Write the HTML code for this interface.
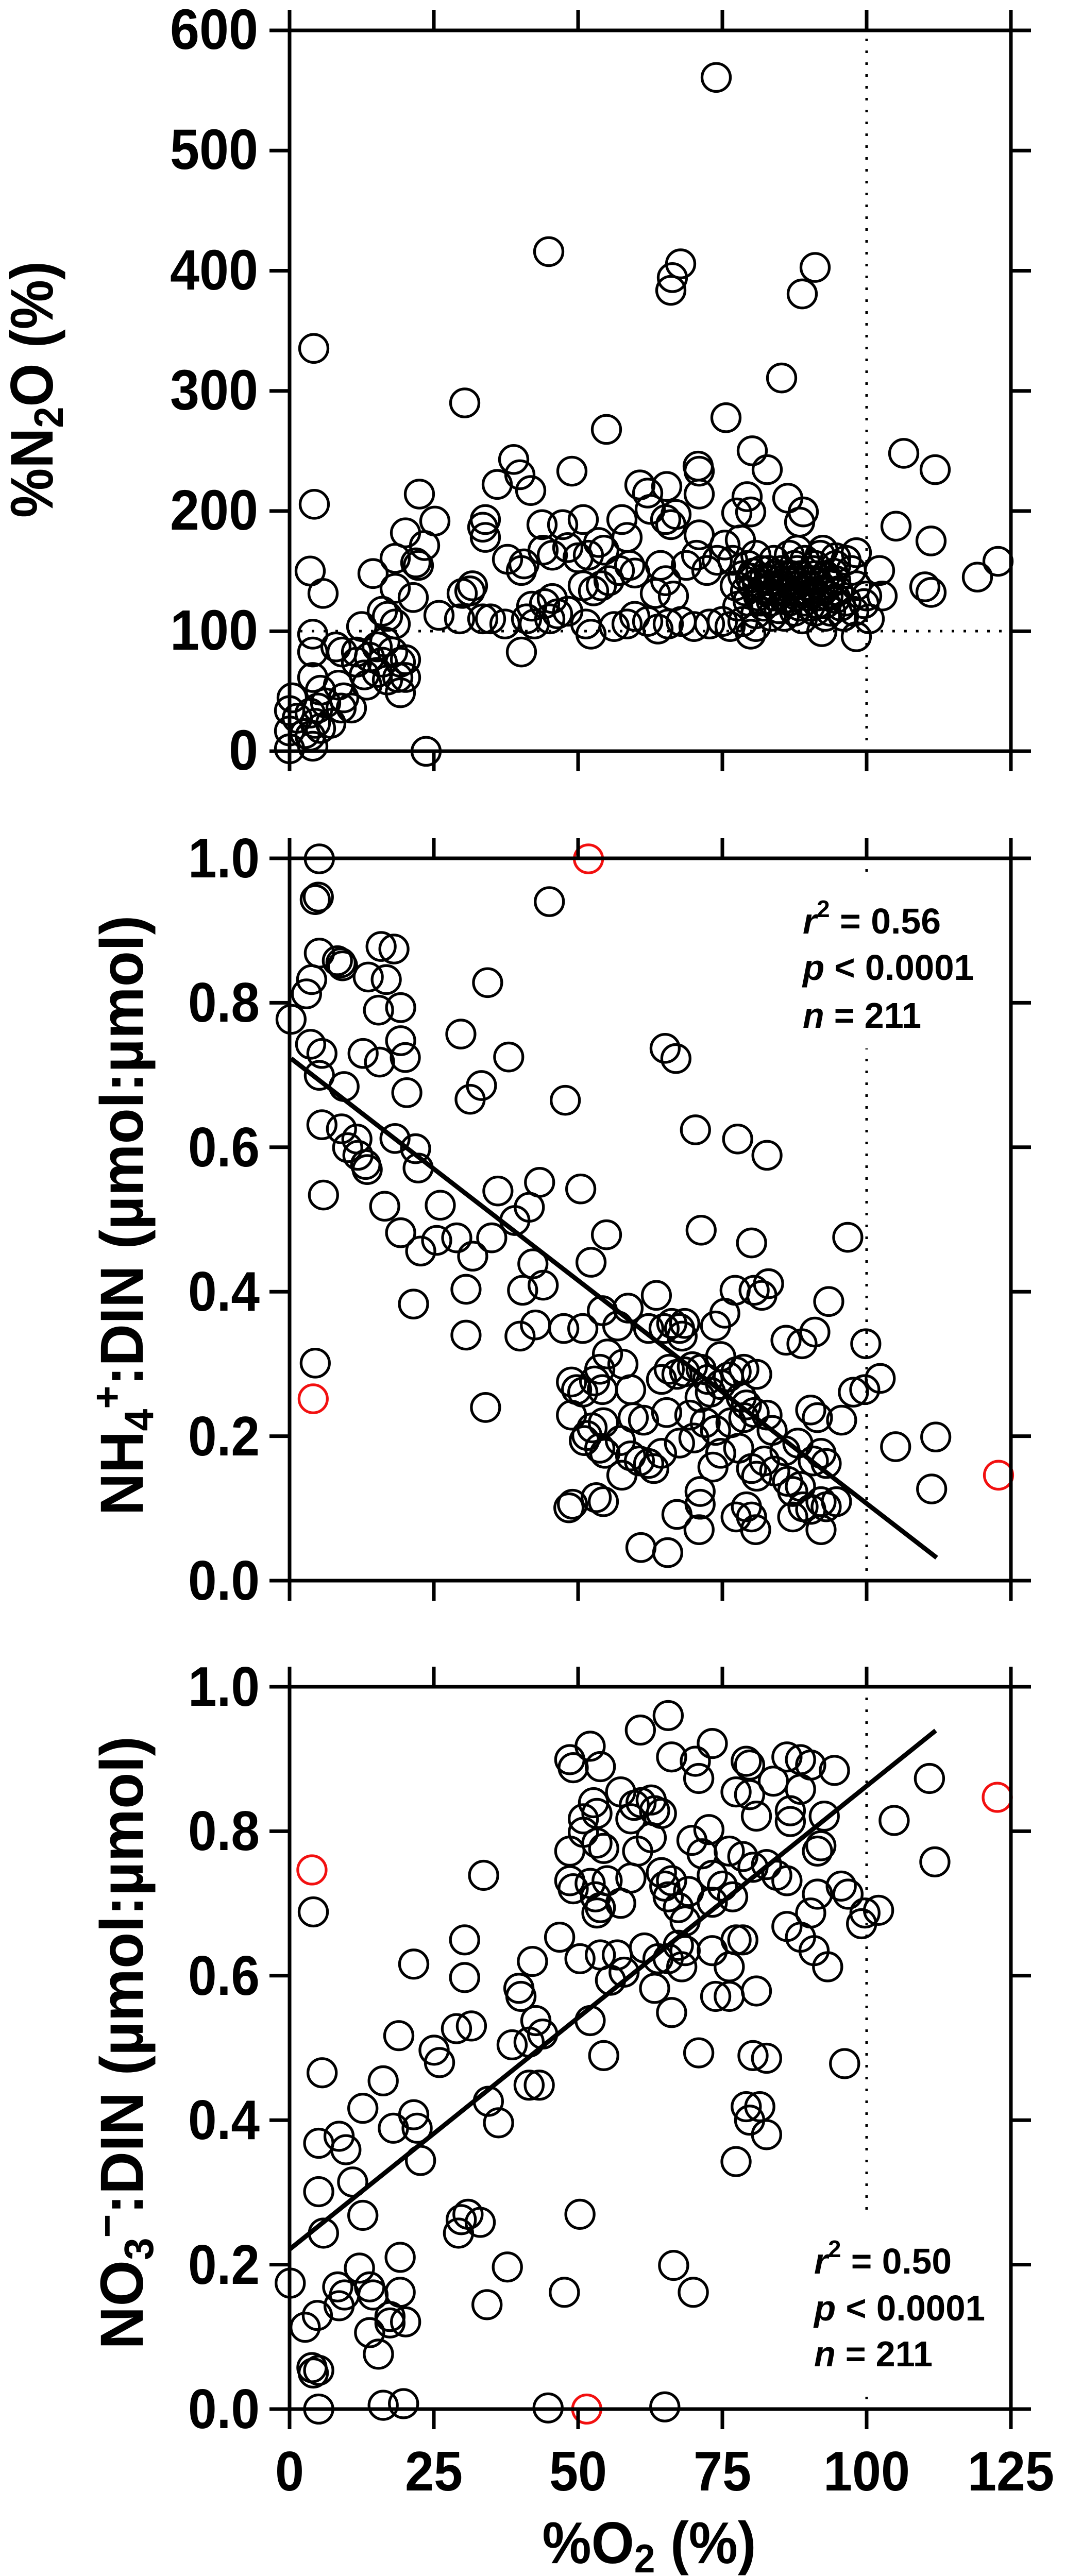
<!DOCTYPE html>
<html><head><meta charset="utf-8"><style>
html,body{margin:0;padding:0;background:#fff;width:2067px;height:5036px;overflow:hidden;position:relative;}
svg{display:block;position:absolute;left:0;top:0;overflow:hidden;}
.ax{stroke:#000;stroke-width:7;fill:none;stroke-linecap:butt;}
.dot{stroke:#000;stroke-width:5;stroke-dasharray:5 18;fill:none;}
.pt circle,.pt ellipse{fill:none;stroke:#000;stroke-width:5.3;vector-effect:non-scaling-stroke;}
.pt .r{stroke:#f21010;}
text{font-family:"Liberation Sans",Arial,sans-serif;font-weight:bold;fill:#000;}
</style></head><body>
<svg width="2067" height="5036" viewBox="0 0 2067 5036" xmlns="http://www.w3.org/2000/svg">

<!-- ============ PANEL 1 ============ -->
<line class="dot" x1="1682" y1="75" x2="1682" y2="1455"/>
<line class="dot" x1="582" y1="1225" x2="1960" y2="1225"/>
<g class="pt" transform="matrix(1 0 0 0.9887 502 0)">
<circle cx="888" cy="152" r="27.5"/><circle cx="563" cy="494" r="27.5"/><circle cx="819" cy="518" r="27.5"/><circle cx="803" cy="545" r="27.5"/><circle cx="800" cy="570" r="27.5"/><circle cx="1080" cy="525" r="27.5"/><circle cx="1055" cy="577" r="27.5"/><circle cx="107" cy="684" r="27.5"/><circle cx="400" cy="791" r="27.5"/><circle cx="1015" cy="742" r="27.5"/><circle cx="907" cy="820" r="27.5"/><circle cx="675" cy="843" r="27.5"/><circle cx="958" cy="885" r="27.5"/><circle cx="987" cy="922" r="27.5"/><circle cx="1252" cy="890" r="27.5"/><circle cx="1313" cy="922" r="27.5"/><circle cx="495" cy="902" r="27.5"/><circle cx="507" cy="932" r="27.5"/><circle cx="528" cy="963" r="27.5"/><circle cx="463" cy="951" r="27.5"/><circle cx="608" cy="925" r="27.5"/><circle cx="853" cy="915" r="27.5"/><circle cx="855" cy="925" r="27.5"/><circle cx="855" cy="970" r="27.5"/><circle cx="740" cy="952" r="27.5"/><circle cx="755" cy="968" r="27.5"/><circle cx="792" cy="955" r="27.5"/><circle cx="760" cy="1000" r="27.5"/><circle cx="312" cy="970" r="27.5"/><circle cx="108" cy="990" r="27.5"/><circle cx="342" cy="1023" r="27.5"/><circle cx="928" cy="1007" r="27.5"/><circle cx="948" cy="975" r="27.5"/><circle cx="955" cy="1005" r="27.5"/><circle cx="1027" cy="978" r="27.5"/><circle cx="1057" cy="1005" r="27.5"/><circle cx="1050" cy="1025" r="27.5"/><circle cx="1237" cy="1033" r="27.5"/><circle cx="1305" cy="1062" r="27.5"/><circle cx="1435" cy="1102" r="27.5"/><circle cx="1395" cy="1133" r="27.5"/><circle cx="1293" cy="1152" r="27.5"/><circle cx="1305" cy="1163" r="27.5"/><circle cx="285" cy="1046" r="27.5"/><circle cx="322" cy="1071" r="27.5"/><circle cx="265" cy="1096" r="27.5"/><circle cx="305" cy="1105" r="27.5"/><circle cx="310" cy="1110" r="27.5"/><circle cx="222" cy="1126" r="27.5"/><circle cx="100" cy="1121" r="27.5"/><circle cx="125" cy="1165" r="27.5"/><circle cx="265" cy="1155" r="27.5"/><circle cx="300" cy="1173" r="27.5"/><circle cx="440" cy="1020" r="27.5"/><circle cx="435" cy="1035" r="27.5"/><circle cx="440" cy="1055" r="27.5"/><circle cx="483" cy="1098" r="27.5"/><circle cx="515" cy="1107" r="27.5"/><circle cx="510" cy="1120" r="27.5"/><circle cx="550" cy="1030" r="27.5"/><circle cx="590" cy="1030" r="27.5"/><circle cx="630" cy="1020" r="27.5"/><circle cx="552" cy="1080" r="27.5"/><circle cx="570" cy="1090" r="27.5"/><circle cx="600" cy="1075" r="27.5"/><circle cx="620" cy="1095" r="27.5"/><circle cx="640" cy="1090" r="27.5"/><circle cx="660" cy="1065" r="27.5"/><circle cx="670" cy="1080" r="27.5"/><circle cx="705" cy="1020" r="27.5"/><circle cx="715" cy="1055" r="27.5"/><circle cx="730" cy="1125" r="27.5"/><circle cx="630" cy="1150" r="27.5"/><circle cx="650" cy="1160" r="27.5"/><circle cx="665" cy="1150" r="27.5"/><circle cx="680" cy="1140" r="27.5"/><circle cx="700" cy="1120" r="27.5"/><circle cx="720" cy="1110" r="27.5"/><circle cx="790" cy="1020" r="27.5"/><circle cx="800" cy="1030" r="27.5"/><circle cx="810" cy="1010" r="27.5"/><circle cx="780" cy="1110" r="27.5"/><circle cx="790" cy="1140" r="27.5"/><circle cx="770" cy="1165" r="27.5"/><circle cx="805" cy="1170" r="27.5"/><circle cx="830" cy="1110" r="27.5"/><circle cx="850" cy="1090" r="27.5"/><circle cx="855" cy="1050" r="27.5"/><circle cx="870" cy="1120" r="27.5"/><circle cx="890" cy="1100" r="27.5"/><circle cx="905" cy="1070" r="27.5"/><circle cx="920" cy="1100" r="27.5"/><circle cx="935" cy="1060" r="27.5"/><circle cx="950" cy="1110" r="27.5"/>
<circle cx="940" cy="1130" r="27.5"/><circle cx="960" cy="1150" r="27.5"/><circle cx="975" cy="1120" r="27.5"/><circle cx="990" cy="1140" r="27.5"/><circle cx="1005" cy="1160" r="27.5"/><circle cx="1020" cy="1130" r="27.5"/><circle cx="1040" cy="1150" r="27.5"/><circle cx="1060" cy="1140" r="27.5"/><circle cx="1075" cy="1120" r="27.5"/><circle cx="1090" cy="1150" r="27.5"/><circle cx="1105" cy="1170" r="27.5"/><circle cx="1120" cy="1140" r="27.5"/><circle cx="1000" cy="1100" r="27.5"/><circle cx="1030" cy="1090" r="27.5"/><circle cx="1060" cy="1100" r="27.5"/><circle cx="1090" cy="1090" r="27.5"/><circle cx="1120" cy="1110" r="27.5"/><circle cx="950" cy="1180" r="27.5"/><circle cx="980" cy="1190" r="27.5"/><circle cx="1010" cy="1195" r="27.5"/><circle cx="1050" cy="1190" r="27.5"/><circle cx="1080" cy="1200" r="27.5"/><circle cx="1110" cy="1200" r="27.5"/><circle cx="1140" cy="1180" r="27.5"/><circle cx="1160" cy="1150" r="27.5"/><circle cx="1160" cy="1085" r="27.5"/><circle cx="1150" cy="1120" r="27.5"/><circle cx="1180" cy="1170" r="27.5"/><circle cx="1205" cy="1120" r="27.5"/><circle cx="1210" cy="1170" r="27.5"/><circle cx="1160" cy="1250" r="27.5"/><circle cx="1185" cy="1215" r="27.5"/><circle cx="1093" cy="1240" r="27.5"/><circle cx="955" cy="1245" r="27.5"/><circle cx="1055" cy="1215" r="27.5"/><circle cx="1020" cy="1210" r="27.5"/><circle cx="995" cy="1210" r="27.5"/><circle cx="1000" cy="1170" r="27.5"/><circle cx="1030" cy="1180" r="27.5"/><circle cx="1065" cy="1170" r="27.5"/><circle cx="965" cy="1090" r="27.5"/><circle cx="1045" cy="1080" r="27.5"/><circle cx="1095" cy="1080" r="27.5"/><circle cx="1120" cy="1095" r="27.5"/><circle cx="1140" cy="1100" r="27.5"/><circle cx="945" cy="1160" r="27.5"/><circle cx="970" cy="1170" r="27.5"/><circle cx="985" cy="1160" r="27.5"/><circle cx="1015" cy="1150" r="27.5"/><circle cx="1035" cy="1130" r="27.5"/><circle cx="1050" cy="1160" r="27.5"/><circle cx="1070" cy="1150" r="27.5"/><circle cx="1085" cy="1170" r="27.5"/><circle cx="1100" cy="1130" r="27.5"/><circle cx="1125" cy="1160" r="27.5"/><circle cx="1130" cy="1190" r="27.5"/><circle cx="925" cy="1150" r="27.5"/><circle cx="930" cy="1190" r="27.5"/><circle cx="965" cy="1205" r="27.5"/><circle cx="1040" cy="1200" r="27.5"/><circle cx="1070" cy="1190" r="27.5"/><circle cx="1100" cy="1210" r="27.5"/><circle cx="1135" cy="1210" r="27.5"/><circle cx="1155" cy="1200" r="27.5"/><circle cx="1175" cy="1185" r="27.5"/><circle cx="1015" cy="1120" r="27.5"/><circle cx="990" cy="1120" r="27.5"/><circle cx="1045" cy="1120" r="27.5"/><circle cx="1075" cy="1140" r="27.5"/>
<circle cx="955" cy="1135" r="27.5"/><circle cx="968" cy="1145" r="27.5"/><circle cx="982" cy="1135" r="27.5"/><circle cx="997" cy="1150" r="27.5"/><circle cx="1010" cy="1140" r="27.5"/><circle cx="1025" cy="1160" r="27.5"/><circle cx="1038" cy="1140" r="27.5"/><circle cx="1052" cy="1130" r="27.5"/><circle cx="1066" cy="1160" r="27.5"/><circle cx="1080" cy="1130" r="27.5"/><circle cx="1095" cy="1160" r="27.5"/><circle cx="1108" cy="1145" r="27.5"/><circle cx="960" cy="1125" r="27.5"/><circle cx="1000" cy="1130" r="27.5"/><circle cx="1040" cy="1110" r="27.5"/><circle cx="1080" cy="1110" r="27.5"/><circle cx="1115" cy="1125" r="27.5"/><circle cx="975" cy="1180" r="27.5"/><circle cx="1020" cy="1175" r="27.5"/><circle cx="1060" cy="1180" r="27.5"/><circle cx="1100" cy="1185" r="27.5"/><circle cx="1120" cy="1175" r="27.5"/><circle cx="995" cy="1180" r="27.5"/><circle cx="1045" cy="1170" r="27.5"/><circle cx="1085" cy="1185" r="27.5"/>
<circle cx="350" cy="1208" r="27.5"/><circle cx="390" cy="1215" r="27.5"/><circle cx="410" cy="1160" r="27.5"/><circle cx="415" cy="1150" r="27.5"/><circle cx="395" cy="1165" r="27.5"/><circle cx="435" cy="1215" r="27.5"/><circle cx="450" cy="1215" r="27.5"/><circle cx="478" cy="1225" r="27.5"/><circle cx="510" cy="1280" r="27.5"/><circle cx="520" cy="1215" r="27.5"/><circle cx="535" cy="1225" r="27.5"/><circle cx="565" cy="1215" r="27.5"/><circle cx="580" cy="1205" r="27.5"/><circle cx="600" cy="1200" r="27.5"/><circle cx="635" cy="1225" r="27.5"/><circle cx="645" cy="1245" r="27.5"/><circle cx="690" cy="1230" r="27.5"/><circle cx="715" cy="1225" r="27.5"/><circle cx="730" cy="1210" r="27.5"/><circle cx="755" cy="1220" r="27.5"/><circle cx="775" cy="1235" r="27.5"/><circle cx="795" cy="1225" r="27.5"/><circle cx="820" cy="1220" r="27.5"/><circle cx="845" cy="1230" r="27.5"/><circle cx="875" cy="1225" r="27.5"/><circle cx="900" cy="1220" r="27.5"/><circle cx="915" cy="1230" r="27.5"/><circle cx="940" cy="1220" r="27.5"/><circle cx="965" cy="1230" r="27.5"/><circle cx="530" cy="1190" r="27.5"/><circle cx="555" cy="1185" r="27.5"/><circle cx="570" cy="1175" r="27.5"/>
<circle cx="60" cy="1470" r="27.5"/><circle cx="60" cy="1435" r="27.5"/><circle cx="65" cy="1370" r="27.5"/><circle cx="60" cy="1395" r="27.5"/><circle cx="75" cy="1410" r="27.5"/><circle cx="90" cy="1440" r="27.5"/><circle cx="100" cy="1445" r="27.5"/><circle cx="105" cy="1465" r="27.5"/><circle cx="110" cy="1420" r="27.5"/><circle cx="120" cy="1430" r="27.5"/><circle cx="100" cy="1400" r="27.5"/><circle cx="115" cy="1390" r="27.5"/><circle cx="105" cy="1330" r="27.5"/><circle cx="120" cy="1355" r="27.5"/><circle cx="130" cy="1380" r="27.5"/><circle cx="140" cy="1420" r="27.5"/><circle cx="160" cy="1390" r="27.5"/><circle cx="180" cy="1390" r="27.5"/><circle cx="165" cy="1370" r="27.5"/><circle cx="155" cy="1345" r="27.5"/><circle cx="105" cy="1280" r="27.5"/><circle cx="105" cy="1245" r="27.5"/><circle cx="150" cy="1270" r="27.5"/><circle cx="162" cy="1280" r="27.5"/><circle cx="200" cy="1230" r="27.5"/><circle cx="190" cy="1300" r="27.5"/><circle cx="205" cy="1325" r="27.5"/><circle cx="210" cy="1345" r="27.5"/><circle cx="230" cy="1320" r="27.5"/><circle cx="240" cy="1300" r="27.5"/><circle cx="230" cy="1270" r="27.5"/><circle cx="245" cy="1260" r="27.5"/><circle cx="260" cy="1280" r="27.5"/><circle cx="275" cy="1300" r="27.5"/><circle cx="285" cy="1295" r="27.5"/><circle cx="270" cy="1330" r="27.5"/><circle cx="275" cy="1360" r="27.5"/><circle cx="285" cy="1330" r="27.5"/><circle cx="250" cy="1335" r="27.5"/><circle cx="240" cy="1200" r="27.5"/><circle cx="250" cy="1210" r="27.5"/><circle cx="265" cy="1225" r="27.5"/><circle cx="325" cy="1475" r="27.5"/><circle cx="190" cy="1280" r="27.5"/><circle cx="215" cy="1290" r="27.5"/>
</g>
<path class="ax" d="M562 19V1497M1962 19V1497M523 59H2001M523 1458H2001
M523 292.2H562M523 525.5H562M523 758.7H562M523 991.9H562M523 1225.2H562
M1962 292.2H2001M1962 525.5H2001M1962 758.7H2001M1962 991.9H2001M1962 1225.2H2001
M842 19V59M1122 19V59M1402 19V59M1682 19V59
M842 1458V1497M1122 1458V1497M1402 1458V1497M1682 1458V1497"/>
<g font-size="110" text-anchor="end">
<text x="501" y="95" textLength="171" lengthAdjust="spacingAndGlyphs">600</text>
<text x="501" y="328" textLength="171" lengthAdjust="spacingAndGlyphs">500</text>
<text x="501" y="562" textLength="171" lengthAdjust="spacingAndGlyphs">400</text>
<text x="501" y="795" textLength="171" lengthAdjust="spacingAndGlyphs">300</text>
<text x="501" y="1028" textLength="171" lengthAdjust="spacingAndGlyphs">200</text>
<text x="501" y="1261" textLength="171" lengthAdjust="spacingAndGlyphs">100</text>
<text x="501" y="1494" textLength="57" lengthAdjust="spacingAndGlyphs">0</text>
</g>
<text transform="translate(102,756) rotate(-90)" font-size="117" text-anchor="middle" textLength="498" lengthAdjust="spacingAndGlyphs">%N<tspan font-size="80" dy="20">2</tspan><tspan dy="-20">O (%)</tspan></text>

<!-- ============ PANEL 2 ============ -->
<line class="dot" x1="1682" y1="1687" x2="1682" y2="3062"/>
<rect x="1545" y="1700" width="365" height="335" fill="#fff"/>
<g class="pt" transform="matrix(0.9986 0 0 0.9887 500 1599.8)">
<circle cx="120" cy="68" r="27.5"/><circle cx="112" cy="148" r="27.5"/><circle cx="118" cy="143" r="27.5"/><circle cx="567" cy="152" r="27.5"/><circle cx="120" cy="253" r="27.5"/><circle cx="155" cy="268" r="27.5"/><circle cx="162" cy="272" r="27.5"/><circle cx="165" cy="278" r="27.5"/><circle cx="240" cy="240" r="27.5"/><circle cx="265" cy="245" r="27.5"/><circle cx="105" cy="305" r="27.5"/><circle cx="95" cy="333" r="27.5"/><circle cx="65" cy="383" r="27.5"/><circle cx="215" cy="300" r="27.5"/><circle cx="250" cy="305" r="27.5"/><circle cx="235" cy="365" r="27.5"/><circle cx="278" cy="360" r="27.5"/><circle cx="447" cy="311" r="27.5"/><circle cx="395" cy="412" r="27.5"/><circle cx="103" cy="432" r="27.5"/><circle cx="125" cy="450" r="27.5"/><circle cx="120" cy="493" r="27.5"/><circle cx="168" cy="515" r="27.5"/><circle cx="205" cy="450" r="27.5"/><circle cx="237" cy="467" r="27.5"/><circle cx="278" cy="425" r="27.5"/><circle cx="287" cy="458" r="27.5"/><circle cx="290" cy="527" r="27.5"/><circle cx="488" cy="457" r="27.5"/><circle cx="435" cy="513" r="27.5"/><circle cx="413" cy="540" r="27.5"/><circle cx="598" cy="542" r="27.5"/><circle cx="792" cy="440" r="27.5"/><circle cx="813" cy="460" r="27.5"/><circle cx="125" cy="590" r="27.5"/><circle cx="163" cy="598" r="27.5"/><circle cx="193" cy="618" r="27.5"/><circle cx="175" cy="635" r="27.5"/><circle cx="195" cy="650" r="27.5"/><circle cx="210" cy="668" r="27.5"/><circle cx="213" cy="678" r="27.5"/><circle cx="267" cy="617" r="27.5"/><circle cx="307" cy="637" r="27.5"/><circle cx="312" cy="675" r="27.5"/><circle cx="851" cy="600" r="27.5"/><circle cx="933" cy="618" r="27.5"/><circle cx="990" cy="650" r="27.5"/><circle cx="128" cy="728" r="27.5"/><circle cx="247" cy="750" r="27.5"/><circle cx="355" cy="748" r="27.5"/><circle cx="467" cy="720" r="27.5"/><circle cx="548" cy="703" r="27.5"/><circle cx="628" cy="716" r="27.5"/><circle cx="528" cy="752" r="27.5"/><circle cx="500" cy="778" r="27.5"/><circle cx="278" cy="802" r="27.5"/><circle cx="317" cy="838" r="27.5"/><circle cx="348" cy="817" r="27.5"/><circle cx="387" cy="812" r="27.5"/><circle cx="418" cy="848" r="27.5"/><circle cx="455" cy="812" r="27.5"/><circle cx="678" cy="806" r="27.5"/><circle cx="862" cy="797" r="27.5"/><circle cx="960" cy="822" r="27.5"/><circle cx="1147" cy="811" r="27.5"/><circle cx="535" cy="863" r="27.5"/><circle cx="648" cy="860" r="27.5"/><circle cx="555" cy="905" r="27.5"/><circle cx="515" cy="915" r="27.5"/><circle cx="405" cy="913" r="27.5"/><circle cx="303" cy="942" r="27.5"/><circle cx="775" cy="925" r="27.5"/><circle cx="928" cy="915" r="27.5"/><circle cx="965" cy="915" r="27.5"/><circle cx="980" cy="925" r="27.5"/><circle cx="993" cy="902" r="27.5"/><circle cx="1110" cy="937" r="27.5"/><circle cx="405" cy="1003" r="27.5"/><circle cx="510" cy="1005" r="27.5"/><circle cx="540" cy="983" r="27.5"/><circle cx="595" cy="990" r="27.5"/><circle cx="632" cy="990" r="27.5"/><circle cx="670" cy="955" r="27.5"/><circle cx="700" cy="985" r="27.5"/><circle cx="720" cy="950" r="27.5"/><circle cx="760" cy="990" r="27.5"/><circle cx="790" cy="990" r="27.5"/><circle cx="805" cy="980" r="27.5"/><circle cx="820" cy="990" r="27.5"/><circle cx="830" cy="980" r="27.5"/><circle cx="825" cy="1005" r="27.5"/><circle cx="890" cy="985" r="27.5"/><circle cx="908" cy="960" r="27.5"/><circle cx="1027" cy="1013" r="27.5"/><circle cx="1058" cy="1020" r="27.5"/><circle cx="1083" cy="997" r="27.5"/><circle cx="1182" cy="1020" r="27.5"/><circle cx="112" cy="1058" r="27.5"/><circle cx="443" cy="1145" r="27.5"/><circle cx="610" cy="1095" r="27.5"/><circle cx="620" cy="1110" r="27.5"/><circle cx="632" cy="1115" r="27.5"/><circle cx="655" cy="1093" r="27.5"/><circle cx="665" cy="1070" r="27.5"/><circle cx="680" cy="1040" r="27.5"/><circle cx="710" cy="1060" r="27.5"/><circle cx="670" cy="1110" r="27.5"/><circle cx="725" cy="1110" r="27.5"/><circle cx="785" cy="1090" r="27.5"/><circle cx="800" cy="1070" r="27.5"/><circle cx="815" cy="1080" r="27.5"/><circle cx="830" cy="1075" r="27.5"/><circle cx="845" cy="1065" r="27.5"/><circle cx="862" cy="1070" r="27.5"/><circle cx="875" cy="1090" r="27.5"/><circle cx="900" cy="1045" r="27.5"/><circle cx="915" cy="1085" r="27.5"/><circle cx="930" cy="1075" r="27.5"/><circle cx="945" cy="1070" r="27.5"/><circle cx="970" cy="1080" r="27.5"/><circle cx="860" cy="1125" r="27.5"/><circle cx="880" cy="1115" r="27.5"/><circle cx="900" cy="1100" r="27.5"/><circle cx="940" cy="1125" r="27.5"/><circle cx="950" cy="1140" r="27.5"/><circle cx="965" cy="1155" r="27.5"/><circle cx="1158" cy="1115" r="27.5"/><circle cx="1180" cy="1110" r="27.5"/><circle cx="1210" cy="1088" r="27.5"/><circle cx="610" cy="1160" r="27.5"/><circle cx="640" cy="1200" r="27.5"/><circle cx="650" cy="1185" r="27.5"/><circle cx="672" cy="1175" r="27.5"/><circle cx="730" cy="1165" r="27.5"/><circle cx="750" cy="1170" r="27.5"/><circle cx="795" cy="1155" r="27.5"/><circle cx="840" cy="1160" r="27.5"/><circle cx="870" cy="1175" r="27.5"/><circle cx="890" cy="1190" r="27.5"/><circle cx="920" cy="1175" r="27.5"/><circle cx="945" cy="1165" r="27.5"/><circle cx="990" cy="1160" r="27.5"/><circle cx="1000" cy="1190" r="27.5"/><circle cx="1075" cy="1150" r="27.5"/><circle cx="1088" cy="1165" r="27.5"/><circle cx="1135" cy="1170" r="27.5"/><circle cx="635" cy="1210" r="27.5"/><circle cx="665" cy="1225" r="27.5"/><circle cx="675" cy="1235" r="27.5"/><circle cx="705" cy="1210" r="27.5"/><circle cx="725" cy="1240" r="27.5"/><circle cx="742" cy="1250" r="27.5"/><circle cx="760" cy="1255" r="27.5"/><circle cx="770" cy="1265" r="27.5"/><circle cx="785" cy="1235" r="27.5"/><circle cx="820" cy="1215" r="27.5"/><circle cx="848" cy="1205" r="27.5"/><circle cx="900" cy="1235" r="27.5"/><circle cx="935" cy="1225" r="27.5"/><circle cx="960" cy="1265" r="27.5"/><circle cx="970" cy="1280" r="27.5"/><circle cx="1005" cy="1270" r="27.5"/><circle cx="1025" cy="1230" r="27.5"/><circle cx="1050" cy="1215" r="27.5"/><circle cx="1080" cy="1250" r="27.5"/><circle cx="1105" cy="1255" r="27.5"/><circle cx="1095" cy="1235" r="27.5"/><circle cx="708" cy="1278" r="27.5"/><circle cx="885" cy="1262" r="27.5"/><circle cx="985" cy="1250" r="27.5"/><circle cx="605" cy="1342" r="27.5"/><circle cx="612" cy="1335" r="27.5"/><circle cx="658" cy="1322" r="27.5"/><circle cx="672" cy="1330" r="27.5"/><circle cx="860" cy="1310" r="27.5"/><circle cx="860" cy="1335" r="27.5"/><circle cx="858" cy="1385" r="27.5"/><circle cx="815" cy="1355" r="27.5"/><circle cx="930" cy="1360" r="27.5"/><circle cx="950" cy="1340" r="27.5"/><circle cx="960" cy="1360" r="27.5"/><circle cx="968" cy="1385" r="27.5"/><circle cx="1030" cy="1290" r="27.5"/><circle cx="1040" cy="1310" r="27.5"/><circle cx="1055" cy="1300" r="27.5"/><circle cx="1040" cy="1360" r="27.5"/><circle cx="1060" cy="1340" r="27.5"/><circle cx="1075" cy="1345" r="27.5"/><circle cx="1095" cy="1330" r="27.5"/><circle cx="1095" cy="1385" r="27.5"/><circle cx="1125" cy="1330" r="27.5"/><circle cx="1105" cy="1340" r="27.5"/><circle cx="745" cy="1420" r="27.5"/><circle cx="797" cy="1430" r="27.5"/><circle cx="1240" cy="1222" r="27.5"/><circle cx="1318" cy="1203" r="27.5"/><circle cx="1310" cy="1305" r="27.5"/>
<circle class="r" cx="643" cy="68" r="27.5"/><circle class="r" cx="108" cy="1128" r="27.5"/><circle class="r" cx="1440" cy="1278" r="27.5"/>
</g>
<line x1="565" y1="2054.6" x2="1818" y2="3023.5" stroke="#000" stroke-width="9"/>
<path class="ax" d="M562 1627V3107M1962 1627V3107M523 1666H2001M523 3068H2001
M523 1946.4H562M523 2226.8H562M523 2507.2H562M523 2787.6H562
M1962 1946.4H2001M1962 2226.8H2001M1962 2507.2H2001M1962 2787.6H2001
M842 1627V1666M1122 1627V1666M1402 1627V1666M1682 1627V1666
M842 3068V3107M1122 3068V3107M1402 3068V3107M1682 3068V3107"/>
<g font-size="109" text-anchor="end">
<text x="504" y="1703" textLength="139" lengthAdjust="spacingAndGlyphs">1.0</text>
<text x="504" y="1983" textLength="139" lengthAdjust="spacingAndGlyphs">0.8</text>
<text x="504" y="2264" textLength="139" lengthAdjust="spacingAndGlyphs">0.6</text>
<text x="504" y="2544" textLength="139" lengthAdjust="spacingAndGlyphs">0.4</text>
<text x="504" y="2825" textLength="139" lengthAdjust="spacingAndGlyphs">0.2</text>
<text x="504" y="3105" textLength="139" lengthAdjust="spacingAndGlyphs">0.0</text>
</g>
<text transform="translate(277,2359) rotate(-90)" font-size="118" text-anchor="middle" textLength="1165" lengthAdjust="spacingAndGlyphs">NH<tspan font-size="80" dy="20">4</tspan><tspan font-size="80" dy="-62">+</tspan><tspan dy="42">:DIN (µmol:µmol)</tspan></text>
<g font-size="70">
<text x="1558" y="1812" textLength="268" lengthAdjust="spacingAndGlyphs"><tspan font-style="italic">r</tspan><tspan font-size="46" dy="-32">2</tspan><tspan dy="32"> = 0.56</tspan></text>
<text x="1558" y="1902" textLength="332" lengthAdjust="spacingAndGlyphs"><tspan font-style="italic">p</tspan> &lt; 0.0001</text>
<text x="1558" y="1995" textLength="230" lengthAdjust="spacingAndGlyphs"><tspan font-style="italic">n</tspan> = 211</text>
</g>

<!-- ============ PANEL 3 ============ -->
<line class="dot" x1="1682" y1="3295" x2="1682" y2="4668"/>
<rect x="1560" y="4300" width="370" height="352" fill="#fff"/>
<g class="pt" transform="matrix(1.317 0 0 1.0443 -0.4 3399.8)">
<ellipse cx="944" cy="-40" rx="20.9" ry="26.3"/><ellipse cx="985" cy="-67" rx="20.9" ry="26.3"/><ellipse cx="1050" cy="-15" rx="20.9" ry="26.3"/><ellipse cx="870" cy="-10" rx="20.9" ry="26.3"/>
<ellipse cx="840" cy="15" rx="20.9" ry="26.3"/><ellipse cx="845" cy="30" rx="20.9" ry="26.3"/><ellipse cx="885" cy="28" rx="20.9" ry="26.3"/><ellipse cx="990" cy="10" rx="20.9" ry="26.3"/><ellipse cx="1025" cy="18" rx="20.9" ry="26.3"/><ellipse cx="1030" cy="50" rx="20.9" ry="26.3"/><ellipse cx="1100" cy="18" rx="20.9" ry="26.3"/><ellipse cx="1105" cy="25" rx="20.9" ry="26.3"/><ellipse cx="1160" cy="10" rx="20.9" ry="26.3"/><ellipse cx="1180" cy="15" rx="20.9" ry="26.3"/><ellipse cx="1195" cy="25" rx="20.9" ry="26.3"/><ellipse cx="1230" cy="35" rx="20.9" ry="26.3"/><ellipse cx="1370" cy="50" rx="20.9" ry="26.3"/>
<ellipse cx="1140" cy="55" rx="20.9" ry="26.3"/><ellipse cx="1085" cy="75" rx="20.9" ry="26.3"/><ellipse cx="1105" cy="80" rx="20.9" ry="26.3"/><ellipse cx="1115" cy="120" rx="20.9" ry="26.3"/><ellipse cx="1165" cy="110" rx="20.9" ry="26.3"/><ellipse cx="1165" cy="130" rx="20.9" ry="26.3"/><ellipse cx="1180" cy="70" rx="20.9" ry="26.3"/><ellipse cx="1215" cy="120" rx="20.9" ry="26.3"/><ellipse cx="1210" cy="175" rx="20.9" ry="26.3"/><ellipse cx="1205" cy="185" rx="20.9" ry="26.3"/>
<ellipse cx="1318" cy="128" rx="20.9" ry="26.3"/><ellipse cx="1378" cy="205" rx="20.9" ry="26.3"/><ellipse cx="462" cy="298" rx="20.9" ry="26.3"/><ellipse cx="713" cy="230" rx="20.9" ry="26.3"/>
<ellipse cx="840" cy="185" rx="20.9" ry="26.3"/><ellipse cx="860" cy="125" rx="20.9" ry="26.3"/><ellipse cx="875" cy="95" rx="20.9" ry="26.3"/><ellipse cx="880" cy="115" rx="20.9" ry="26.3"/><ellipse cx="860" cy="150" rx="20.9" ry="26.3"/><ellipse cx="880" cy="170" rx="20.9" ry="26.3"/><ellipse cx="890" cy="180" rx="20.9" ry="26.3"/>
<ellipse cx="915" cy="75" rx="20.9" ry="26.3"/><ellipse cx="930" cy="125" rx="20.9" ry="26.3"/><ellipse cx="935" cy="100" rx="20.9" ry="26.3"/><ellipse cx="945" cy="95" rx="20.9" ry="26.3"/><ellipse cx="960" cy="90" rx="20.9" ry="26.3"/><ellipse cx="965" cy="110" rx="20.9" ry="26.3"/><ellipse cx="975" cy="115" rx="20.9" ry="26.3"/><ellipse cx="960" cy="160" rx="20.9" ry="26.3"/><ellipse cx="940" cy="185" rx="20.9" ry="26.3"/><ellipse cx="930" cy="235" rx="20.9" ry="26.3"/><ellipse cx="895" cy="240" rx="20.9" ry="26.3"/><ellipse cx="840" cy="240" rx="20.9" ry="26.3"/><ellipse cx="845" cy="255" rx="20.9" ry="26.3"/><ellipse cx="870" cy="245" rx="20.9" ry="26.3"/><ellipse cx="878" cy="270" rx="20.9" ry="26.3"/><ellipse cx="885" cy="290" rx="20.9" ry="26.3"/><ellipse cx="915" cy="282" rx="20.9" ry="26.3"/><ellipse cx="880" cy="300" rx="20.9" ry="26.3"/>
<ellipse cx="1020" cy="165" rx="20.9" ry="26.3"/><ellipse cx="1045" cy="145" rx="20.9" ry="26.3"/><ellipse cx="1035" cy="190" rx="20.9" ry="26.3"/><ellipse cx="1050" cy="230" rx="20.9" ry="26.3"/><ellipse cx="1075" cy="185" rx="20.9" ry="26.3"/><ellipse cx="1095" cy="195" rx="20.9" ry="26.3"/><ellipse cx="1110" cy="215" rx="20.9" ry="26.3"/><ellipse cx="1130" cy="210" rx="20.9" ry="26.3"/><ellipse cx="1145" cy="230" rx="20.9" ry="26.3"/><ellipse cx="1160" cy="240" rx="20.9" ry="26.3"/><ellipse cx="1065" cy="250" rx="20.9" ry="26.3"/><ellipse cx="1080" cy="270" rx="20.9" ry="26.3"/><ellipse cx="1050" cy="280" rx="20.9" ry="26.3"/><ellipse cx="1015" cy="260" rx="20.9" ry="26.3"/><ellipse cx="990" cy="240" rx="20.9" ry="26.3"/><ellipse cx="975" cy="225" rx="20.9" ry="26.3"/><ellipse cx="980" cy="250" rx="20.9" ry="26.3"/><ellipse cx="985" cy="270" rx="20.9" ry="26.3"/><ellipse cx="1000" cy="290" rx="20.9" ry="26.3"/><ellipse cx="1010" cy="315" rx="20.9" ry="26.3"/>
<ellipse cx="1160" cy="325" rx="20.9" ry="26.3"/><ellipse cx="1180" cy="345" rx="20.9" ry="26.3"/><ellipse cx="1195" cy="300" rx="20.9" ry="26.3"/><ellipse cx="1200" cy="370" rx="20.9" ry="26.3"/><ellipse cx="1220" cy="400" rx="20.9" ry="26.3"/><ellipse cx="1240" cy="250" rx="20.9" ry="26.3"/><ellipse cx="1250" cy="265" rx="20.9" ry="26.3"/><ellipse cx="1275" cy="300" rx="20.9" ry="26.3"/><ellipse cx="1270" cy="320" rx="20.9" ry="26.3"/><ellipse cx="1295" cy="295" rx="20.9" ry="26.3"/><ellipse cx="1205" cy="265" rx="20.9" ry="26.3"/>
<ellipse cx="825" cy="345" rx="20.9" ry="26.3"/><ellipse cx="855" cy="385" rx="20.9" ry="26.3"/><ellipse cx="885" cy="378" rx="20.9" ry="26.3"/><ellipse cx="910" cy="378" rx="20.9" ry="26.3"/><ellipse cx="900" cy="425" rx="20.9" ry="26.3"/><ellipse cx="920" cy="410" rx="20.9" ry="26.3"/><ellipse cx="965" cy="440" rx="20.9" ry="26.3"/><ellipse cx="950" cy="365" rx="20.9" ry="26.3"/><ellipse cx="970" cy="385" rx="20.9" ry="26.3"/><ellipse cx="985" cy="385" rx="20.9" ry="26.3"/><ellipse cx="1000" cy="360" rx="20.9" ry="26.3"/><ellipse cx="1010" cy="370" rx="20.9" ry="26.3"/><ellipse cx="1005" cy="400" rx="20.9" ry="26.3"/><ellipse cx="990" cy="485" rx="20.9" ry="26.3"/><ellipse cx="1050" cy="370" rx="20.9" ry="26.3"/><ellipse cx="1085" cy="350" rx="20.9" ry="26.3"/><ellipse cx="1095" cy="350" rx="20.9" ry="26.3"/><ellipse cx="1075" cy="400" rx="20.9" ry="26.3"/><ellipse cx="1055" cy="455" rx="20.9" ry="26.3"/><ellipse cx="1075" cy="455" rx="20.9" ry="26.3"/><ellipse cx="1115" cy="445" rx="20.9" ry="26.3"/>
<ellipse cx="685" cy="350" rx="20.9" ry="26.3"/><ellipse cx="685" cy="420" rx="20.9" ry="26.3"/><ellipse cx="610" cy="395" rx="20.9" ry="26.3"/><ellipse cx="765" cy="440" rx="20.9" ry="26.3"/><ellipse cx="768" cy="455" rx="20.9" ry="26.3"/><ellipse cx="785" cy="390" rx="20.9" ry="26.3"/><ellipse cx="790" cy="500" rx="20.9" ry="26.3"/><ellipse cx="780" cy="540" rx="20.9" ry="26.3"/><ellipse cx="800" cy="525" rx="20.9" ry="26.3"/><ellipse cx="870" cy="500" rx="20.9" ry="26.3"/><ellipse cx="890" cy="565" rx="20.9" ry="26.3"/>
<ellipse cx="1030" cy="560" rx="20.9" ry="26.3"/><ellipse cx="1110" cy="565" rx="20.9" ry="26.3"/><ellipse cx="1130" cy="570" rx="20.9" ry="26.3"/><ellipse cx="1245" cy="580" rx="20.9" ry="26.3"/><ellipse cx="1100" cy="660" rx="20.9" ry="26.3"/><ellipse cx="1120" cy="660" rx="20.9" ry="26.3"/><ellipse cx="1105" cy="685" rx="20.9" ry="26.3"/><ellipse cx="1130" cy="712" rx="20.9" ry="26.3"/><ellipse cx="1085" cy="762" rx="20.9" ry="26.3"/>
<ellipse cx="588" cy="528" rx="20.9" ry="26.3"/><ellipse cx="640" cy="555" rx="20.9" ry="26.3"/><ellipse cx="648" cy="578" rx="20.9" ry="26.3"/><ellipse cx="673" cy="515" rx="20.9" ry="26.3"/><ellipse cx="695" cy="510" rx="20.9" ry="26.3"/><ellipse cx="755" cy="545" rx="20.9" ry="26.3"/><ellipse cx="780" cy="620" rx="20.9" ry="26.3"/><ellipse cx="795" cy="620" rx="20.9" ry="26.3"/><ellipse cx="720" cy="650" rx="20.9" ry="26.3"/><ellipse cx="735" cy="690" rx="20.9" ry="26.3"/>
<ellipse cx="475" cy="597" rx="20.9" ry="26.3"/><ellipse cx="565" cy="612" rx="20.9" ry="26.3"/><ellipse cx="535" cy="663" rx="20.9" ry="26.3"/><ellipse cx="500" cy="715" rx="20.9" ry="26.3"/><ellipse cx="510" cy="740" rx="20.9" ry="26.3"/><ellipse cx="470" cy="728" rx="20.9" ry="26.3"/><ellipse cx="580" cy="700" rx="20.9" ry="26.3"/><ellipse cx="610" cy="675" rx="20.9" ry="26.3"/><ellipse cx="615" cy="700" rx="20.9" ry="26.3"/><ellipse cx="620" cy="760" rx="20.9" ry="26.3"/>
<ellipse cx="520" cy="800" rx="20.9" ry="26.3"/><ellipse cx="470" cy="818" rx="20.9" ry="26.3"/><ellipse cx="535" cy="862" rx="20.9" ry="26.3"/><ellipse cx="477" cy="895" rx="20.9" ry="26.3"/><ellipse cx="680" cy="870" rx="20.9" ry="26.3"/><ellipse cx="690" cy="860" rx="20.9" ry="26.3"/><ellipse cx="708" cy="875" rx="20.9" ry="26.3"/><ellipse cx="676" cy="895" rx="20.9" ry="26.3"/><ellipse cx="855" cy="860" rx="20.9" ry="26.3"/>
<ellipse cx="748" cy="958" rx="20.9" ry="26.3"/><ellipse cx="832" cy="1005" rx="20.9" ry="26.3"/><ellipse cx="993" cy="955" rx="20.9" ry="26.3"/><ellipse cx="1022" cy="1005" rx="20.9" ry="26.3"/>
<ellipse cx="428" cy="988" rx="20.9" ry="26.3"/><ellipse cx="450" cy="1070" rx="20.9" ry="26.3"/><ellipse cx="468" cy="1048" rx="20.9" ry="26.3"/><ellipse cx="498" cy="995" rx="20.9" ry="26.3"/><ellipse cx="508" cy="1010" rx="20.9" ry="26.3"/><ellipse cx="500" cy="1030" rx="20.9" ry="26.3"/><ellipse cx="530" cy="960" rx="20.9" ry="26.3"/><ellipse cx="545" cy="995" rx="20.9" ry="26.3"/><ellipse cx="545" cy="1080" rx="20.9" ry="26.3"/><ellipse cx="550" cy="1010" rx="20.9" ry="26.3"/><ellipse cx="575" cy="1050" rx="20.9" ry="26.3"/><ellipse cx="590" cy="940" rx="20.9" ry="26.3"/><ellipse cx="590" cy="1005" rx="20.9" ry="26.3"/><ellipse cx="598" cy="1060" rx="20.9" ry="26.3"/><ellipse cx="575" cy="1062" rx="20.9" ry="26.3"/><ellipse cx="558" cy="1120" rx="20.9" ry="26.3"/><ellipse cx="718" cy="1028" rx="20.9" ry="26.3"/>
<ellipse cx="460" cy="1145" rx="20.9" ry="26.3"/><ellipse cx="462" cy="1155" rx="20.9" ry="26.3"/><ellipse cx="470" cy="1150" rx="20.9" ry="26.3"/>
<ellipse cx="470" cy="1222" rx="20.9" ry="26.3"/><ellipse cx="565" cy="1215" rx="20.9" ry="26.3"/><ellipse cx="595" cy="1212" rx="20.9" ry="26.3"/><ellipse cx="808" cy="1220" rx="20.9" ry="26.3"/><ellipse cx="980" cy="1218" rx="20.9" ry="26.3"/>
<ellipse class="r" cx="460" cy="220" rx="20.9" ry="26.3"/><ellipse class="r" cx="1470" cy="85" rx="20.9" ry="26.3"/><ellipse class="r" cx="865" cy="1222" rx="20.9" ry="26.3"/>
</g>
<line x1="562" y1="4366" x2="1816" y2="3359" stroke="#000" stroke-width="9"/>
<path class="ax" d="M562 3235V4715M1962 3235V4715M523 3274H2001M523 4676H2001
M523 3554.4H562M523 3834.8H562M523 4115.2H562M523 4395.6H562
M1962 3554.4H2001M1962 3834.8H2001M1962 4115.2H2001M1962 4395.6H2001
M842 3235V3274M1122 3235V3274M1402 3235V3274M1682 3235V3274
M842 4676V4715M1122 4676V4715M1402 4676V4715M1682 4676V4715"/>
<g font-size="109" text-anchor="end">
<text x="504" y="3311" textLength="139" lengthAdjust="spacingAndGlyphs">1.0</text>
<text x="504" y="3591" textLength="139" lengthAdjust="spacingAndGlyphs">0.8</text>
<text x="504" y="3872" textLength="139" lengthAdjust="spacingAndGlyphs">0.6</text>
<text x="504" y="4152" textLength="139" lengthAdjust="spacingAndGlyphs">0.4</text>
<text x="504" y="4433" textLength="139" lengthAdjust="spacingAndGlyphs">0.2</text>
<text x="504" y="4713" textLength="139" lengthAdjust="spacingAndGlyphs">0.0</text>
</g>
<g font-size="109" text-anchor="middle">
<text x="562" y="4834" textLength="56" lengthAdjust="spacingAndGlyphs">0</text>
<text x="842" y="4834" textLength="112" lengthAdjust="spacingAndGlyphs">25</text>
<text x="1122" y="4834" textLength="112" lengthAdjust="spacingAndGlyphs">50</text>
<text x="1402" y="4834" textLength="112" lengthAdjust="spacingAndGlyphs">75</text>
<text x="1682" y="4834" textLength="168" lengthAdjust="spacingAndGlyphs">100</text>
<text x="1962" y="4834" textLength="168" lengthAdjust="spacingAndGlyphs">125</text>
</g>
<text transform="translate(277,3965) rotate(-90)" font-size="118" text-anchor="middle" textLength="1190" lengthAdjust="spacingAndGlyphs">NO<tspan font-size="80" dy="20">3</tspan><tspan font-size="80" dy="-62">−</tspan><tspan dy="42">:DIN (µmol:µmol)</tspan></text>
<g font-size="70">
<text x="1580" y="4413" textLength="267" lengthAdjust="spacingAndGlyphs"><tspan font-style="italic">r</tspan><tspan font-size="46" dy="-32">2</tspan><tspan dy="32"> = 0.50</tspan></text>
<text x="1580" y="4504" textLength="332" lengthAdjust="spacingAndGlyphs"><tspan font-style="italic">p</tspan> &lt; 0.0001</text>
<text x="1580" y="4593" textLength="230" lengthAdjust="spacingAndGlyphs"><tspan font-style="italic">n</tspan> = 211</text>
</g>
<text x="1260" y="4975" font-size="114" text-anchor="middle" textLength="415" lengthAdjust="spacingAndGlyphs">%O<tspan font-size="78" dy="18">2</tspan><tspan dy="-18"> (%)</tspan></text>
</svg>
</body></html>
